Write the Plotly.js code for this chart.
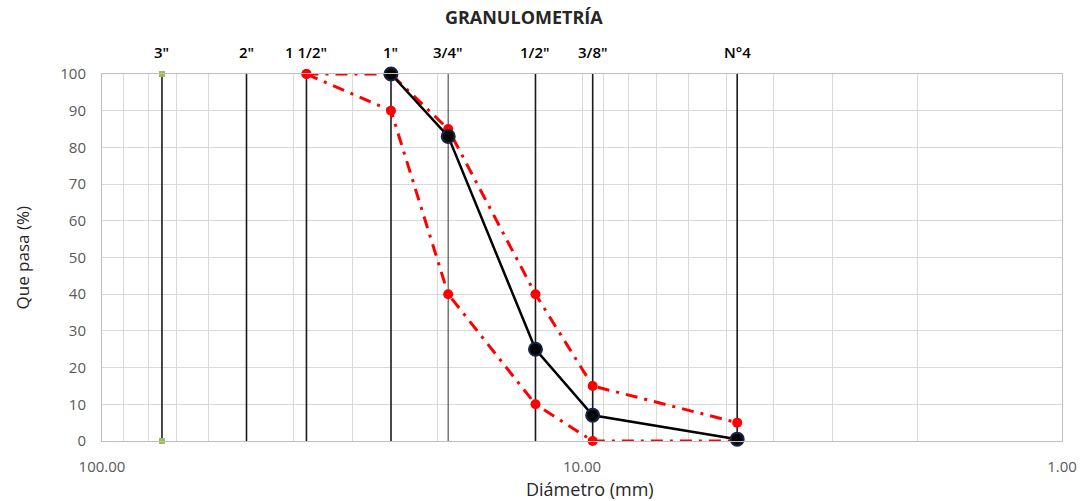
<!DOCTYPE html>
<html><head><meta charset="utf-8">
<script src="https://cdn.plot.ly/plotly-3.0.1.min.js"></script>
<style>body{margin:0;background:#fff}#c{width:1080px;height:501px}</style>
</head><body><div id="c"></div>
<script>
// Sieve sizes (mm) and labels
const sieveSizes = [75, 50, 37.5, 25, 19, 12.5, 9.5, 4.75];
const sieveLabels = ['3"', '2"', '1 1/2"', '1"', '3/4"', '1/2"', '3/8"', 'N°4'];
// Sample gradation
const sampleX = [25, 19, 12.5, 9.5, 4.75];
const sampleY = [100, 83, 25, 7, 0.5];
// Upper limit
const upperX = [37.5, 25, 19, 12.5, 9.5, 4.75];
const upperY = [100, 100, 85, 40, 15, 5];
// Lower limit
const lowerX = [37.5, 25, 19, 12.5, 9.5, 4.75];
const lowerY = [100, 90, 40, 10, 0, 0];
const xTicks = [100, 10, 1];
const xTickText = ['100.00', '10.00', '1.00'];

const FONT = 'Open Sans, sans-serif';
const traces = [];
sieveSizes.forEach((s, i) => {
  const isFirst = i === 0;
  traces.push({
    x: [s, s], y: [0, 100], type: 'scatter',
    mode: isFirst ? 'lines+markers' : 'lines',
    line: {color: i === 4 ? '#555' : '#1a1a1a', width: i === 4 ? 1.2 : 1.6},
    marker: {color: '#9bbb59', size: 6, symbol: 'square'},
    hoverinfo: 'skip', showlegend: false, cliponaxis: false
  });
});
const dashPat = '12px,7px,3px,7px';
traces.push({x: upperX, y: upperY, type: 'scatter', mode: 'lines+markers',
  line: {color: '#ff0000', width: 3, dash: dashPat},
  marker: {color: '#ff0000', size: 10}, showlegend: false, cliponaxis: false});
traces.push({x: lowerX, y: lowerY, type: 'scatter', mode: 'lines+markers',
  line: {color: '#ff0000', width: 3, dash: dashPat},
  marker: {color: '#ff0000', size: 10}, showlegend: false, cliponaxis: false});
traces.push({x: sampleX, y: sampleY, type: 'scatter', mode: 'lines+markers',
  line: {color: '#000', width: 2.5},
  marker: {color: '#050505', size: 13, line: {color: '#14244d', width: 2}},
  showlegend: false, cliponaxis: false});

const annotations = sieveSizes.map((s, i) => ({
  x: Math.log10(s), y: 1, xref: 'x', yref: 'paper', yanchor: 'middle', yshift: 22,
  text: sieveLabels[i], showarrow: false,
  font: {family: FONT, size: 15, color: '#000', weight: 600}
}));
annotations.push({x: 0.508, y: 0, xref: 'paper', yref: 'paper', yanchor: 'middle', yshift: -48,
  text: 'Diámetro (mm)', showarrow: false, font: {family: FONT, size: 18, color: '#262626'}});
annotations.push({x: 0, y: 0.5, xref: 'paper', yref: 'paper', xanchor: 'center', xshift: -80,
  textangle: -90, text: 'Que pasa (%)', showarrow: false, font: {family: FONT, size: 17, color: '#262626'}});

const layout = {
  width: 1080, height: 501,
  margin: {l: 102, r: 18, t: 74, b: 60},
  paper_bgcolor: '#fff', plot_bgcolor: '#fff',
  title: {text: '<b>GRANULOMETRÍA</b>', x: 0.485, xanchor: 'center', y: 0.964, yanchor: 'middle',
    font: {family: FONT, size: 18, color: '#262626'}},
  xaxis: {type: 'log', range: [2, 0], tickvals: xTicks, ticktext: xTickText,
    showgrid: true, gridcolor: '#d9d9d9', gridwidth: 1,
    minor: {dtick: 'D1', showgrid: true, gridcolor: '#d9d9d9', gridwidth: 1, ticks: ''},
    showline: true, linecolor: '#bfbfbf', mirror: true, ticks: '', zeroline: false,
    ticklabelstandoff: 12,
    tickfont: {family: FONT, size: 15, color: '#595959'}},
  yaxis: {range: [0, 100], dtick: 10, showgrid: true, gridcolor: '#d9d9d9',
    showline: true, linecolor: '#bfbfbf', mirror: true, ticks: '', zeroline: false,
    ticklabelstandoff: 12,
    tickfont: {family: FONT, size: 15, color: '#595959'}},
  annotations: annotations,
  showlegend: false
};
Plotly.newPlot('c', traces, layout, {displayModeBar: false, staticPlot: true});
</script></body></html>
